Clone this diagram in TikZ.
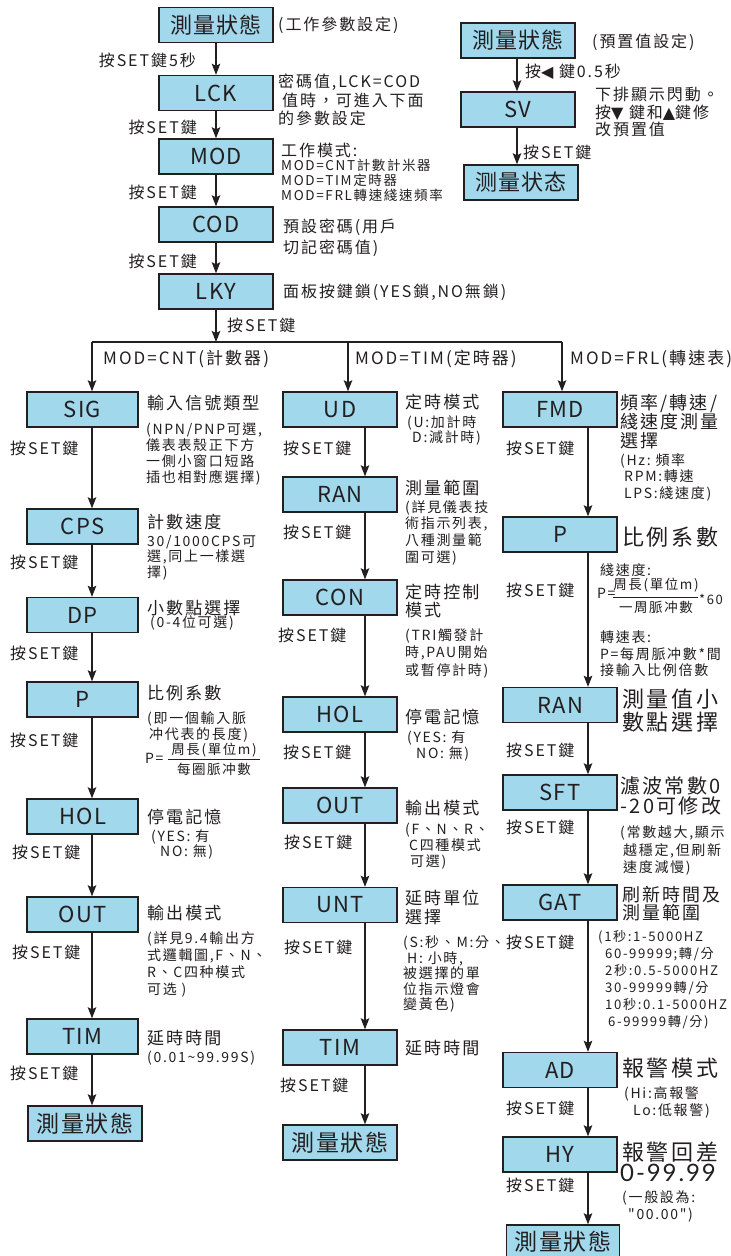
\documentclass[tikz,border=0pt]{standalone}
\usepackage{fontspec}
\usetikzlibrary{arrows.meta}
\newfontfamily\cjk[LetterSpace=12]{Noto Sans CJK TC}
\newfontfamily\cjkb[LetterSpace=6]{Noto Sans CJK TC}
\newfontfamily\symf{DejaVu Sans}
\newfontfamily\thinf[LetterSpace=8]{Lato}
\definecolor{linec}{RGB}{35,31,32}
\definecolor{boxc}{RGB}{162,216,236}
\tikzset{
  box/.style={draw=linec, line width=1.4pt, fill=boxc, minimum width=114pt, minimum height=35pt, inner sep=0pt, text=linec, font=\cjkb\fontsize{22}{24}\selectfont},
  arr/.style={draw=linec, line width=1.2pt, -{Stealth[length=11pt,width=8.5pt,inset=2pt]}},
  ln/.style={draw=linec, line width=1.2pt},
  lbl/.style={anchor=west, inner sep=0pt, text=linec, font=\cjk\fontsize{16}{18}\selectfont},
  lble/.style={anchor=east, inner sep=0pt, text=linec, font=\cjk\fontsize{16}{18}\selectfont},
  hd/.style={anchor=west, inner sep=0pt, text=linec, font=\cjk\fontsize{#1}{#1}\selectfont},
  ml/.style 2 args={anchor=north west, inner sep=0pt, align=left, text=linec, font=\cjk\fontsize{#1}{#2}\selectfont},
  ctr/.style={anchor=center, inner sep=0pt, text=linec, font=\cjk\fontsize{#1}{#1}\selectfont}
}
\begin{document}
\begin{tikzpicture}[x=1pt,y=-1pt]
\useasboundingbox[fill=white] (0,0) rectangle (731,1256);

% ---------- top chain ----------
\node[box] (ms1) at (216,25) {測量狀態};
\node[box] (lck) at (216,93) {LCK};
\node[box] (mod) at (216,156.5) {MOD};
\node[box] (cod) at (216,224.5) {COD};
\node[box] (lky) at (216,291.5) {LKY};
\draw[arr] (ms1) -- (lck);
\draw[arr] (lck) -- (mod);
\draw[arr] (mod) -- (cod);
\draw[arr] (cod) -- (lky);
\node[lble] (l0) at (196,60) {按SET鍵5秒};
\node[lble] (l1) at (197,127) {按SET鍵};
\node[lble] (l2) at (197,192) {按SET鍵};
\node[lble] (l3) at (197,261) {按SET鍵};
\node[lbl] (l4) at (227,325) {按SET鍵};
\node[hd=16] (t0) at (278,25) {(工作參數設定)};
\node[ml={16}{18.5}] (t1) at (278,74) {密碼值,LCK=COD\\\hspace*{4pt}值時，可進入下面\\的參數設定};
\node[hd=16] (t2) at (281,150) {工作模式:};
\node[ml={13.5}{15}] (t3) at (281,158.5) {MOD=CNT計數計米器\\MOD=TIM定時器\\MOD=FRL轉速綫速頻率};
\node[ml={16}{21}] (t4) at (283,219) {預設密碼(用戶\\切記密碼值)};
\node[hd=16] (t5) at (283,292) {面板按鍵鎖(YES鎖,NO無鎖)};

% ---------- top right ----------
\node[box] (ms2) at (518,40.5) {測量狀態};
\node[box] (sv) at (518,109.5) {SV};
\node[box] (ms3) at (521,182.5) {测量状态};
\coordinate (ax0) at (517,0);
\draw[arr] (ms2.south -| ax0) -- (sv.north -| ax0);
\draw[arr] (sv.south -| ax0) -- (ms3.north -| ax0);
\node[hd=16] (r0) at (592,42) {(預置值設定)};
\node[hd=16] (r1) at (525,72) {按{\symf ◀} 鍵0.5秒};
\node[ml={16}{17.5}] (r2) at (595,87) {下排顯示閃動。\\按{\symf ▼} 鍵和{\symf ▲}鍵修\\改預置值};
\node[lbl] (r3) at (523,152) {按SET鍵};

% ---------- branch ----------
\coordinate (br) at (216,342);
\coordinate (b1) at (92,342);
\coordinate (b2) at (348,342);
\coordinate (b3) at (562,342);
\draw[arr] (lky) -- (br);
\draw[ln] (b1) -- (b3);
\node[hd=17] (m1) at (103,359) {MOD=CNT(計數器)};
\node[hd=17] (m2) at (355,359) {MOD=TIM(定時器)};
\node[hd=17] (m3) at (570,359) {MOD=FRL(轉速表)};

% ---------- column 1 ----------
\coordinate (ax1) at (92,0);
\tikzset{box/.append style={minimum width=111pt}}
\node[box] (sig) at (82.5,409.5) {SIG};
\node[box] (cps) at (82.5,526.5) {CPS};
\node[box] (dp)  at (82.5,615) {DP};
\node[box] (p1)  at (82.5,699.5) {P};
\node[box] (hol1) at (82.5,816.5) {HOL};
\node[box] (out1) at (82.5,914.5) {OUT};
\node[box] (tim1) at (82.5,1036.5) {TIM};
\node[box, minimum width=114pt, font=\cjkb\fontsize{23}{24}\selectfont] (end1) at (85,1123.5) {測量狀態};
\draw[arr] (b1) -- (sig.north -| ax1);
\draw[arr] (sig.south -| ax1) -- (cps.north -| ax1);
\draw[arr] (cps.south -| ax1) -- (dp.north -| ax1);
\draw[arr] (dp.south -| ax1) -- (p1.north -| ax1);
\draw[arr] (p1.south -| ax1) -- (hol1.north -| ax1);
\draw[arr] (hol1.south -| ax1) -- (out1.north -| ax1);
\draw[arr] (out1.south -| ax1) -- (tim1.north -| ax1);
\draw[arr] (tim1.south -| ax1) -- (end1.north -| ax1);
\node[lbl] (c1l1) at (10,448) {按SET鍵};
\node[lbl] (c1l2) at (10,562) {按SET鍵};
\node[lbl] (c1l3) at (10,653) {按SET鍵};
\node[lbl] (c1l4) at (10,740) {按SET鍵};
\node[lbl] (c1l5) at (12,852) {按SET鍵};
\node[lbl] (c1l6) at (12,952) {按SET鍵};
\node[lbl] (c1l7) at (10,1073) {按SET鍵};
\node[hd=17] (c1h1) at (147,403) {輸入信號類型};
\node[ml={14}{16}] (c1s1) at (146,423) {(NPN/PNP可選,\\儀表表殼正下方\\一側小窗口短路\\插也相對應選擇)};
\node[hd=17] (c1h2) at (147,522) {計數速度};
\node[ml={14}{15.5}] (c1s2) at (147,535) {30/1000CPS可\\選,同上一樣選\\擇)};
\node[hd=17] (c1h3) at (147,608) {小數點選擇};
\node[hd=14] (c1s3) at (150,623) {(0-4位可選)};
\node[hd=17] (c1h4) at (147,693) {比例系數};
\node[ml={14}{16.5}] (c1s4) at (147,711) {(即一個輸入脈\\\hspace*{2pt}冲代表的長度)};
\node[hd=14] (c1f0) at (145,758) {P=};
\node[ctr=13.5] (c1fn) at (214,750) {周長(單位m)};
\node[ctr=13.5] (c1fd) at (214,769) {每圈脈冲數};
\draw[linec, line width=0.8pt] (168,759) -- (260,759);
\node[hd=17] (c1h5) at (147,817) {停電記憶};
\node[ml={14}{15}] (c1s5) at (151,830) {(YES:\ 有\\\hspace*{9pt}NO:\ 無)};
\node[hd=17] (c1h6) at (147,913) {輸出模式};
\node[ml={14}{17}] (c1s6) at (147,931) {(詳見9.4輸出方\\式邏輯圖,F、N、\\R、C四种模式\\可选 )};
\node[hd=17] (c1h7) at (147,1038) {延時時間};
\node[hd=14] (c1s7) at (147,1058) {(0.01\char"7E 99.99S)};

% ---------- column 2 ----------
\coordinate (ax2) at (365,0);
\tikzset{box/.append style={minimum width=114pt}}
\node[box] (ud) at (340,409.5) {UD};
\node[box] (ran2) at (340,494.5) {RAN};
\node[box] (con) at (340,597.5) {CON};
\node[box] (hol2) at (340,714.5) {HOL};
\node[box] (out2) at (340,805.5) {OUT};
\node[box] (unt) at (340,905) {UNT};
\node[box] (tim2) at (340,1047.5) {TIM};
\node[box, font=\cjkb\fontsize{23}{24}\selectfont] (end2) at (340,1142.5) {測量狀態};
\draw[arr] (b2) -- (ud.north -| b2);
\draw[arr] (ud.south -| ax2) -- (ran2.north -| ax2);
\draw[arr] (ran2.south -| ax2) -- (con.north -| ax2);
\draw[arr] (con.south -| ax2) -- (hol2.north -| ax2);
\draw[arr] (hol2.south -| ax2) -- (out2.north -| ax2);
\draw[arr] (out2.south -| ax2) -- (unt.north -| ax2);
\draw[arr] (unt.south -| ax2) -- (tim2.north -| ax2);
\draw[arr] (tim2.south -| ax2) -- (end2.north -| ax2);
\node[lbl] (c2l1) at (283,448) {按SET鍵};
\node[lbl] (c2l2) at (283,532) {按SET鍵};
\node[lbl] (c2l3) at (278,635) {按SET鍵};
\node[lbl] (c2l4) at (283,752) {按SET鍵};
\node[lbl] (c2l5) at (284,842) {按SET鍵};
\node[lbl] (c2l6) at (284,947) {按SET鍵};
\node[lbl] (c2l7) at (280,1085) {按SET鍵};
\node[hd=17] (c2h1) at (405,402) {定時模式};
\node[ml={14}{15}] (c2s1) at (407,415) {(U:加計時\\\hspace*{5pt}D:減計時)};
\node[hd=17] (c2h2) at (405,488) {測量範圍};
\node[ml={14}{16.7}] (c2s2) at (405,500) {(詳見儀表技\\術指示列表,\\八種測量範\\圍可選)};
\node[ml={17}{18.5}] (c2h3) at (405,583.5) {定時控制\\模式};
\node[ml={14}{17.5}] (c2s3) at (405,628) {(TRI觸發計\\時,PAU開始\\或暫停計時)};
\node[hd=17] (c2h4) at (405,717) {停電記憶};
\node[ml={14}{14.5}] (c2s4) at (407,731) {(YES:\ 有\\\hspace*{9pt}NO:\ 無)};
\node[hd=17] (c2h5) at (405,808) {輸出模式};
\node[ml={14}{16}] (c2s5) at (405,823) {(F、N、R、\\\hspace*{4pt}C四種模式\\\hspace*{5pt}可選)};
\node[ml={17}{19}] (c2h6) at (405,889.5) {延時單位\\選擇};
\node[ml={14}{15.5}] (c2s6) at (403,936) {(S:秒、M:分、\\\hspace*{4pt}H:\ 小時,\\被選擇的單\\位指示燈會\\變黃色)};
\node[hd=17] (c2h7) at (405,1048) {延時時間};

% ---------- column 3 ----------
\coordinate (ax3) at (588,0);
\node[box] (fmd) at (560,409.5) {FMD};
\node[box] (p3) at (560,534.5) {P};
\node[box] (ran3) at (560,705) {RAN};
\node[box] (sft) at (560,792.5) {SFT};
\node[box] (gat) at (560,902.5) {GAT};
\node[box] (ad) at (560,1070) {AD};
\node[box] (hy) at (560,1154.5) {HY};
\node[box, minimum width=113pt, minimum height=33pt, font=\cjkb\fontsize{23}{24}\selectfont] (end3) at (563,1241.5) {測量狀態};
\draw[arr] (b3) -- (fmd.north -| b3);
\draw[arr] (fmd.south -| ax3) -- (p3.north -| ax3);
\draw[arr] (p3.south -| ax3) -- (ran3.north -| ax3);
\draw[arr] (ran3.south -| ax3) -- (sft.north -| ax3);
\draw[arr] (sft.south -| ax3) -- (gat.north -| ax3);
\draw[arr] (gat.south -| ax3) -- (ad.north -| ax3);
\draw[arr] (ad.south -| ax3) -- (hy.north -| ax3);
\draw[arr] (hy.south -| ax3) -- (end3.north -| ax3);
\node[lbl] (c3l1) at (506,448) {按SET鍵};
\node[lbl] (c3l2) at (506,590) {按SET鍵};
\node[lbl] (c3l3) at (506,750) {按SET鍵};
\node[lbl] (c3l4) at (506,827) {按SET鍵};
\node[lbl] (c3l5) at (506,942) {按SET鍵};
\node[lbl] (c3l6) at (506,1108) {按SET鍵};
\node[lbl] (c3l7) at (506,1185) {按SET鍵};
\node[ml={18}{19}] (c3h1) at (620,394) {頻率/轉速/\\綫速度測量\\選擇};
\node[ml={14}{16.5}] (c3s1) at (620,453) {(Hz:\ 頻率\\\hspace*{4pt}RPM:轉速\\\hspace*{4pt}LPS:綫速度)};
\node[hd=22] (c3h2) at (622,537) {比例系數};
\node[hd=14] (c3s2a) at (600,570) {綫速度:};
\node[hd=14] (c3f0) at (597,593) {P=};
\node[ctr=13.5] (c3fn) at (656,585) {周長(單位m)};
\node[ctr=13.5] (c3fd) at (656,607) {一周脈冲數};
\draw[linec, line width=0.8pt] (613,597) -- (698,597);
\node[hd=13] (c3f6) at (699,599) {*60};
\node[ml={14}{16.5}] (c3s2b) at (600,631) {轉速表:\\P=每周脈冲數*間\\接輸入比例倍數};
\node[ml={22}{23}] (c3h3) at (622,689) {測量值小\\數點選擇};
\node[ml={20}{20}] (c3h4) at (620,776.5) {濾波常數0\\-20可修改};
\node[ml={14}{17.5}] (c3s4) at (620,826) {(常數越大,顯示\\\hspace*{3pt}越穩定,但刷新\\\hspace*{3pt}速度減慢)};
\node[ml={18}{18.5}] (c3h5) at (622,886) {刷新時間及\\測量範圍};
\node[ml={13.2}{17}] (c3s5) at (598,930) {(1秒:1-5000HZ\\\hspace*{7pt}60-99999;轉/分\\\hspace*{7pt}2秒:0.5-5000HZ\\\hspace*{7pt}30-99999轉/分\\\hspace*{7pt}10秒:0.1-5000HZ\\\hspace*{10pt}6-99999轉/分)};
\node[hd=22] (c3h6) at (622,1068) {報警模式};
\node[ml={14}{17}] (c3s6) at (624,1086) {(Hi:高報警\\\hspace*{9pt}Lo:低報警)};
\node[hd=22] (c3h7) at (622,1152) {報警回差};
\node[anchor=west, inner sep=0pt, text=linec, font=\thinf\fontsize{24}{24}\selectfont] (c3n7) at (620,1173) {0-99.99};
\node[ml={14}{17}] (c3s7) at (622,1190) {(一般設為:\\\hspace*{6pt}"00.00")};
\end{tikzpicture}
\end{document}
